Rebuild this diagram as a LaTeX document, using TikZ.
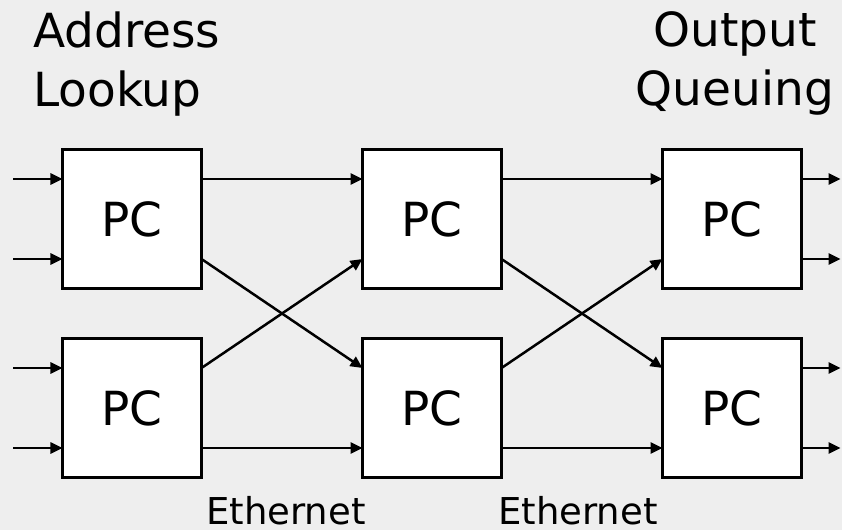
\documentclass[tikz,border=0pt]{standalone}
\usepackage{fontspec}
\setmainfont{DejaVu Sans}
\usetikzlibrary{positioning,arrows.meta}
\definecolor{bg}{RGB}{238,238,238}

\begin{document}
\begin{tikzpicture}[
		x=1pt, y=1pt,
		> = {Triangle[length=12pt,width=11pt]},
		pc/.style = {draw, line width=3.5pt, fill=white, minimum size=139pt, inner sep=0pt, outer sep=0pt, font=\fontsize{47}{55}\selectfont},
		link/.style = {->, line width=2.5pt},
		lbl/.style = {inner sep=0pt, font=\fontsize{47}{59}\selectfont},
		note/.style = {inner sep=0pt, font=\fontsize{37}{42}\selectfont},
		node distance = 50pt and 161pt
		]
		\useasboundingbox[fill=bg] (-132,219) rectangle (710,-311);
		% processing cards
		\node[pc] (a1) at (0,0) {PC};
		\node[pc, below=of a1] (a2) {PC};
		\node[pc, right=of a1] (b1) {PC};
		\node[pc, right=of a2] (b2) {PC};
		\node[pc, right=of b1] (c1) {PC};
		\node[pc, right=of b2] (c2) {PC};
		% inputs and outputs
		\foreach \n in {a1,a2}
			\foreach \s in {40,-40}
				\draw[link, <-] ([yshift=\s pt]\n.west) -- ++(-49,0);
		\foreach \n in {c1,c2}
			\foreach \s in {40,-40}
				\draw[link] ([yshift=\s pt]\n.east) -- ++(39,0);
		% ethernet links
		\foreach \x/\y in {a/b, b/c} {
			\draw[link] ([yshift=40pt]\x1.east) -- ([yshift=40pt]\y1.west);
			\draw[link] ([yshift=-40pt]\x1.east) -- ([yshift=40pt]\y2.west);
			\draw[link] ([yshift=40pt]\x2.east) -- ([yshift=-40pt]\y1.west);
			\draw[link] ([yshift=-40pt]\x2.east) -- ([yshift=-40pt]\y2.west);
		}
		% denote
		\node[lbl, align=left, anchor=north west] (addr) at (-99,207.5) {Address\\Lookup};
		\node[lbl, align=center, anchor=north] (outq) at (603,207.5) {Output\\Queuing};
		\node[note, anchor=base] (eth1) at (154,-305) {Ethernet};
		\node[note, anchor=base] (eth2) at (446,-305) {Ethernet};
	\end{tikzpicture}
\end{document}
